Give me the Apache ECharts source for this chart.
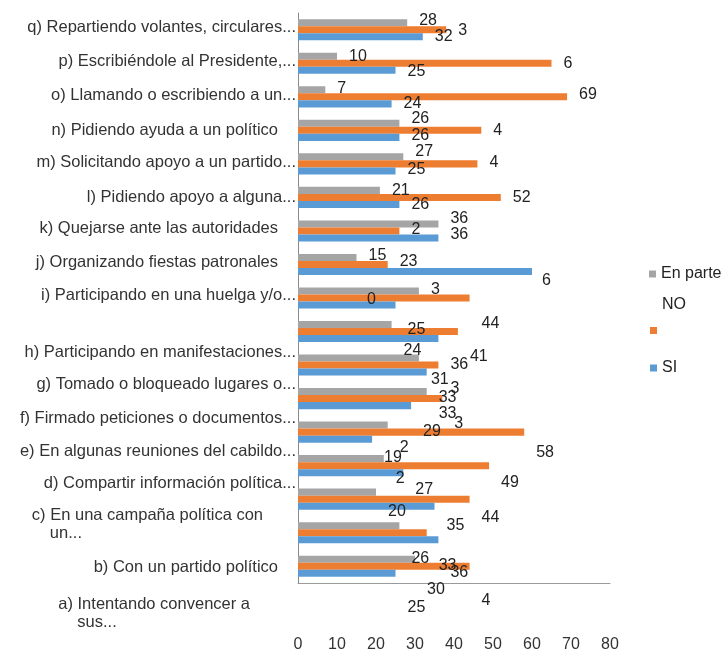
<!DOCTYPE html>
<html>
<head>
<meta charset="utf-8">
<script src="https://cdn.jsdelivr.net/npm/echarts@6/dist/echarts.min.js"></script>
<style>
  html, body { margin: 0; padding: 0; background: #ffffff; }
  #chart { width: 727px; height: 659px; }
</style>
</head>
<body>
<div id="chart"></div>
<script>
// Categories, listed bottom-to-top as the category axis draws them
const categories = [
  'a) Intentando convencer a\nsus...',
  'b) Con un partido político',
  'c) En una campaña política con\nun...',
  'd) Compartir información política...',
  'e) En algunas reuniones del cabildo...',
  'f) Firmado peticiones o documentos...',
  'g) Tomado o bloqueado lugares o...',
  'h) Participando en manifestaciones...',
  'i) Participando en una huelga y/o...',
  'j) Organizando fiestas patronales',
  'k) Quejarse ante las autoridades',
  'l) Pidiendo apoyo a alguna...',
  'm) Solicitando apoyo a un partido...',
  'n) Pidiendo ayuda a un político',
  'o) Llamando o escribiendo a un...',
  'p) Escribiéndole al Presidente,...',
  'q) Repartiendo volantes, circulares...'
];

// Series values (same order as categories)
const enParte = [30, 26, 20, 22, 23, 33, 31, 24, 31, 15, 36, 21, 27, 26, 7, 10, 28];
const no      = [44, 33, 44, 49, 58, 37, 36, 41, 44, 23, 26, 52, 46, 47, 69, 65, 38];
const si      = [25, 36, 35, 27, 19, 29, 33, 36, 25, 60, 36, 26, 25, 26, 24, 25, 32];

// Value axis ticks
const xTicks = [0, 10, 20, 30, 40, 50, 60, 70, 80];

// ---- label layout (vertical drift of the value labels, in px) ----
const enParteLabelDy = [30, 33, 19, 20, 23, 22, 22, 26, -1, -2, -5, 0, -5, -5, -1, 0, -2];
const noLabelDy      = [34, 33, 18, 17, 20, 25, 24, 25, 26, -3, -1, 0, -1, 0, -2, 0, 1];
const siLabelDy      = [34, 33, 19, 17, 18, 26, 25, 26, 25, 19, -3, 0, -1, -2, 0, 1, 0];
// labels that only show their leading digit
const enParteShort = [3, 4, 8];
const noShort      = [0, 5, 6, 10, 12, 13, 15, 16];
// label split in two pieces (leading digit and the rest placed apart)
const siSplit = [9];
const SPLIT_SHIFT = -177, SPLIT_GAP = 175;

// category label drift and horizontal padding
const catDy = [47, 35, 25, 18, 19, 20, 19, 21, -3, -2, -2, 0, -1, 0, -1, -1.5, -2];
const wrapPad = { 0: [46, 19], 2: [33, 18] }; // [right pad of first line, indent of second line]

const FONT = '"Liberation Sans", Arial, sans-serif';
const CAT_FONT_SIZE = 16.5;
const COLORS = ['#A5A5A5', '#ED7D31', '#5B9BD5'];

function barData(values, dy, shortIdx, splitIdx) {
  return values.map((v, i) => {
    const s = String(v);
    const item = { value: v, label: { offset: [0, dy[i]] } };
    if (shortIdx.includes(i)) item.label.formatter = s.charAt(0);
    if (splitIdx.includes(i)) {
      item.label.formatter = '{hd|' + s.charAt(0) + '}\n{tl|' + s.slice(1) + '}';
      item.label.offset = [SPLIT_SHIFT, dy[i]];
    }
    return item;
  });
}

function catRich() {
  const rich = {};
  const base = { fontSize: CAT_FONT_SIZE, color: '#333', fontFamily: FONT };
  categories.forEach((c, i) => {
    const d = catDy[i];
    const lines = c.split('\n');
    if (lines.length === 1) {
      const pr = c.endsWith('...') ? 0 : 18;
      rich['t' + i] = Object.assign({}, base, {
        padding: d >= 0 ? [2 * d, pr, 0, 0] : [0, pr, -2 * d, 0]
      });
    } else {
      const wp = wrapPad[i];
      rich['t' + i] = Object.assign({}, base, { padding: [2 * d, wp[0], 0, 0] });
      rich['u' + i] = Object.assign({}, base, { align: 'left', padding: [1, 0, 0, wp[1]] });
    }
  });
  return rich;
}

const labelBase = {
  show: true,
  position: 'right',
  distance: 12,
  fontSize: 16,
  fontFamily: FONT,
  color: '#222',
  rich: {
    hd: { fontSize: 16, fontFamily: FONT, color: '#222', lineHeight: 19, padding: [0, 0, 0, SPLIT_GAP] },
    tl: { fontSize: 16, fontFamily: FONT, color: '#222', lineHeight: 19 }
  }
};

const legendBase = {
  orient: 'vertical',
  left: 650,
  padding: 0,
  itemWidth: 7,
  itemHeight: 7,
  itemGap: 0,
  icon: 'rect',
  selectedMode: false,
  textStyle: { fontSize: 16, color: '#222', fontFamily: FONT }
};

const chart = echarts.init(document.getElementById('chart'), null, { renderer: 'canvas' });
chart.setOption({
  backgroundColor: '#ffffff',
  animation: false,
  color: COLORS,
  textStyle: { fontFamily: FONT },
  grid: { left: 298, top: 13, width: 312, height: 570, containLabel: false },
  legend: [
    Object.assign({}, legendBase, { data: ['En parte'], top: 266, left: 649 }),
    Object.assign({}, legendBase, {
      data: ['NO'], top: 297,
      formatter: name => '{up|' + name + '}',
      textStyle: {
        fontSize: 16, color: '#222', fontFamily: FONT,
        rich: { up: { fontSize: 16, color: '#222', fontFamily: FONT, padding: [0, 0, 51, 0] } }
      }
    }),
    Object.assign({}, legendBase, { data: ['SI'], top: 360 })
  ],
  xAxis: {
    type: 'value',
    min: xTicks[0],
    max: xTicks[xTicks.length - 1],
    interval: xTicks[1] - xTicks[0],
    axisLine: { show: true, lineStyle: { color: '#9a9a9a', width: 1 } },
    axisTick: { show: false },
    splitLine: { show: false },
    axisLabel: { margin: 54, fontSize: 16, color: '#333', fontFamily: FONT }
  },
  yAxis: {
    type: 'category',
    data: categories,
    axisLine: { show: true, lineStyle: { color: '#8a8a8a', width: 1 } },
    axisTick: { show: false },
    splitLine: { show: false },
    axisLabel: {
      margin: 2,
      interval: 0,
      formatter: (val, idx) => {
        const lines = val.split('\n');
        if (lines.length === 1) return '{t' + idx + '|' + val + '}';
        return '{t' + idx + '|' + lines[0] + '}\n{u' + idx + '|' + lines[1] + '}';
      },
      rich: catRich()
    }
  },
  series: [
    { name: 'En parte', type: 'bar', barGap: '0%', barCategoryGap: '37%',
      label: labelBase, data: barData(enParte, enParteLabelDy, enParteShort, []) },
    { name: 'NO', type: 'bar', barGap: '0%', barCategoryGap: '37%',
      label: labelBase, data: barData(no, noLabelDy, noShort, []) },
    { name: 'SI', type: 'bar', barGap: '0%', barCategoryGap: '37%',
      label: labelBase, data: barData(si, siLabelDy, [], siSplit) }
  ]
});
</script>
</body>
</html>
